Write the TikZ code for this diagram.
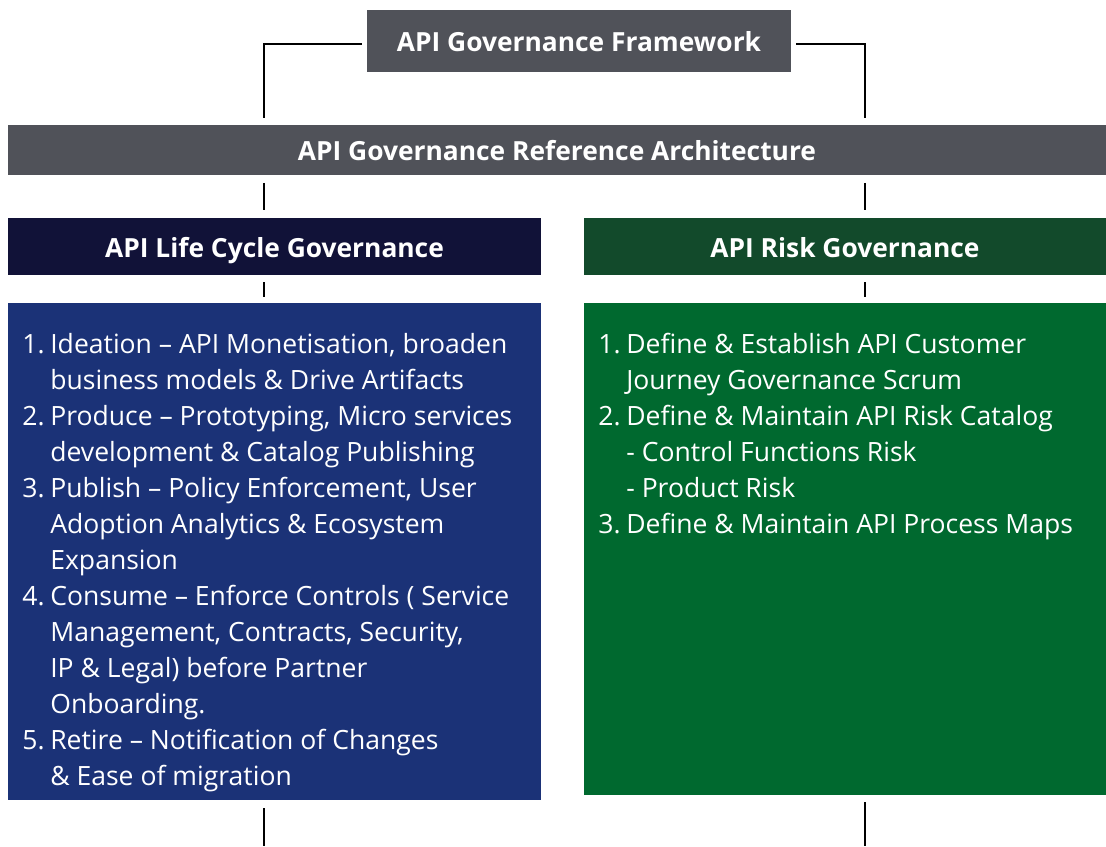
\documentclass[tikz,border=0pt]{standalone}
\usepackage{fontspec}
\setmainfont{Open Sans}
\usepackage{tikz}
\usetikzlibrary{positioning}

\definecolor{framegray}{HTML}{505259}
\definecolor{navyhead}{HTML}{111238}
\definecolor{greenhead}{HTML}{124A2B}
\definecolor{bluebody}{HTML}{1B3277}
\definecolor{greenbody}{HTML}{00692F}

\newcommand{\nr}[1]{\makebox[0.56cm][l]{#1}}
\newcommand{\ind}{\hspace*{0.56cm}}

\begin{document}
\begin{tikzpicture}[x=0.02cm,y=-0.02cm,
    bar/.style={fill=framegray,text=white,inner sep=0pt,text height=12.4pt,text depth=0pt,font=\fontsize{15}{18}\selectfont\bfseries},
    head/.style={text=white,inner sep=0pt,text height=12.4pt,text depth=0pt,font=\fontsize{15}{18}\selectfont\bfseries},
    body/.style={inner sep=0pt},
    listtext/.style={text=white,inner sep=0pt,align=left,anchor=north west,font=\fontsize{15.1}{20.5}\selectfont},
    link/.style={draw=black,line width=1.2pt}]
  \useasboundingbox (0,0) rectangle (1106,846);
  \coordinate (lx) at (264,0);
  \coordinate (rx) at (865,0);
  \coordinate (lend) at (264,846);
  \coordinate (rend) at (865,846);

  \node (fw) at (579,41) [bar,minimum width=8.48cm,minimum height=1.24cm] {API Governance Framework};
  \node (ra) at (557,149.5) [bar,minimum width=21.96cm,minimum height=1.0cm] {API Governance Reference Architecture};
  \node (lch) at (274.5,246.5) [head,fill=navyhead,minimum width=10.66cm,minimum height=1.14cm] {API Life Cycle Governance};
  \node (rgh) at (845,246.5) [head,fill=greenhead,minimum width=10.44cm,minimum height=1.14cm] {API Risk Governance};
  \node (lcb) at (274.5,551.5) [body,fill=bluebody,minimum width=10.66cm,minimum height=9.94cm] {};
  \node (rgb) at (845,549) [body,fill=greenbody,minimum width=10.44cm,minimum height=9.84cm] {};

  \node (lctext) at (22,333) [listtext] {%
    \nr{1.}Ideation – API Monetisation, broaden\\
    \ind business models \& Drive Artifacts\\
    \nr{2.}Produce – Prototyping, Micro services\\
    \ind development \& Catalog Publishing\\
    \nr{3.}Publish – Policy Enforcement, User\\
    \ind Adoption Analytics \& Ecosystem\\
    \ind Expansion\\
    \nr{4.}Consume – Enforce Controls ( Service\\
    \ind Management, Contracts, Security,\\
    \ind IP \& Legal) before Partner\\
    \ind Onboarding.\\
    \nr{5.}Retire – Notification of Changes\\
    \ind \& Ease of migration};
  \node (rgtext) at (598,333) [listtext] {%
    \nr{1.}Define \& Establish API Customer\\
    \ind Journey Governance Scrum\\
    \nr{2.}Define \& Maintain API Risk Catalog\\
    \ind - Control Functions Risk\\
    \ind - Product Risk\\
    \nr{3.}Define \& Maintain API Process Maps};

  % connectors
  \draw [link,shorten <=0.1cm,shorten >=0.12cm] ([yshift=-0.06cm]fw.west) -| (ra.north -| lx);
  \draw [link,shorten <=0.1cm,shorten >=0.12cm] ([yshift=-0.06cm]fw.east) -| (ra.north -| rx);
  \draw [link,shorten <=0.16cm,shorten >=0.16cm] (ra.south -| lx) -- (lch.north -| lx);
  \draw [link,shorten <=0.16cm,shorten >=0.16cm] (ra.south -| rx) -- (rgh.north -| rx);
  \draw [link,shorten <=0.14cm,shorten >=0.12cm] (lch.south -| lx) -- (lcb.north -| lx);
  \draw [link,shorten <=0.14cm,shorten >=0.12cm] (rgh.south -| rx) -- (rgb.north -| rx);
  \draw [link,shorten <=0.16cm] (lcb.south -| lx) -- (lend);
  \draw [link,shorten <=0.14cm] (rgb.south -| rx) -- (rend);
\end{tikzpicture}
\end{document}
